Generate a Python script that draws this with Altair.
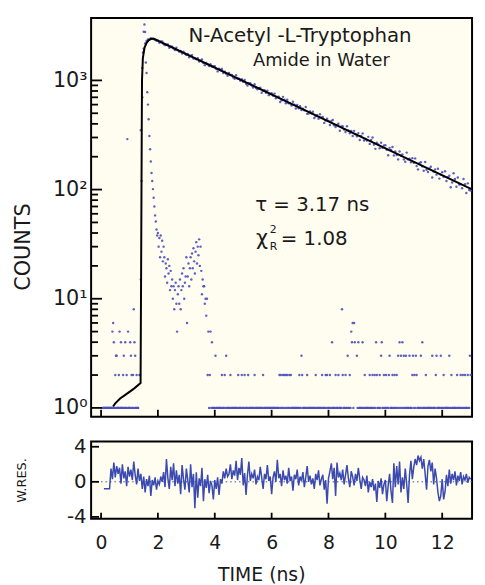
import altair as alt
import pandas as pd

# ---------------- data ----------------
DECAY_DT = 0.05    # ns per channel of the decay curve
LAMP_DT = 0.025    # ns per channel of the lamp / scatter profile

decay_counts = [
    0, 0, 1, 1, 1, 1, 1, 1, 1, 1, 1, 1, 1, 1, 1, 1, 1, 1, 1, 1,
    1, 1, 1, 1, 1, 1, 1, 2, 350, 1300, 1950, 2180, 2300, 2370, 2380, 2440, 2400, 2390, 2360, 2310,
    2317, 2214, 2277, 2278, 2159, 2104, 2123, 2134, 1986, 2049, 2037, 1963, 1902, 1989, 1893, 1834, 1860, 1761, 1830, 1760,
    1713, 1751, 1629, 1679, 1705, 1584, 1593, 1559, 1596, 1486, 1526, 1552, 1443, 1380, 1446, 1409, 1352, 1409, 1337, 1350,
    1346, 1280, 1209, 1283, 1244, 1272, 1166, 1200, 1153, 1102, 1172, 1121, 1124, 1064, 1035, 1115, 1038, 1038, 995, 1026,
    974, 1007, 931, 898, 941, 943, 898, 860, 923, 852, 829, 847, 857, 771, 805, 812, 769, 805, 733, 752,
    763, 725, 757, 687, 705, 708, 634, 656, 707, 666, 617, 664, 618, 616, 590, 637, 600, 552, 595, 555,
    581, 536, 551, 533, 571, 494, 497, 520, 500, 516, 453, 469, 481, 445, 489, 457, 462, 408, 429, 446,
    426, 390, 424, 433, 389, 374, 390, 401, 346, 379, 381, 355, 337, 380, 347, 328, 345, 309, 345, 321,
    307, 329, 284, 310, 327, 282, 291, 282, 304, 262, 284, 300, 258, 236, 269, 259, 239, 268, 242, 253,
    255, 232, 206, 241, 230, 245, 205, 223, 207, 189, 223, 205, 210, 189, 180, 218, 189, 192, 178, 194,
    176, 193, 164, 153, 175, 178, 163, 149, 179, 152, 145, 156, 162, 129, 146, 153, 137, 155, 126, 137,
    144, 131, 147, 120, 130, 134, 105, 116, 141, 125, 106, 129, 111, 112, 103, 125, 112, 93, 114, 99,
    98,
]

lamp_counts = [
    0, 0, 1, 1, 1, 1, 1, 1, 1, 1, 1, 1, 1, 1, 1, 1, 5, 6, 4, 1,
    2, 3, 3, 1, 1, 2, 5, 1, 4, 1, 1, 2, 3, 1, 4, 1, 2, 290, 5, 1,
    1, 4, 3, 2, 1, 2, 8, 4, 3, 1, 2, 1, 1, 0, 0, 2, 15, 120, 700, 1800,
    2790, 3250, 2780, 1460, 1170, 780, 600, 440, 310, 234, 181, 142, 120, 101, 84, 70, 58, 51, 43, 38,
    40, 30, 36, 24, 38, 27, 34, 22, 30, 24, 16, 21, 19, 14, 23, 17, 20, 12, 18, 13,
    15, 10, 13, 8, 12, 14, 9, 5, 11, 13, 9, 15, 8, 12, 17, 13, 19, 10, 14, 16,
    24, 6, 16, 21, 13, 19, 24, 15, 26, 19, 29, 22, 17, 27, 33, 21, 30, 25, 35, 20,
    30, 18, 11, 15, 13, 13, 9, 10, 7, 10, 2, 5, 1, 2, 5, 1, 4, 1, 1, 1,
    1, 3, 1, 1, 1, 1, 1, 1, 1, 1, 2, 1, 1, 1, 2, 1, 3, 1, 1, 1,
    1, 1, 2, 1, 1, 1, 1, 1, 1, 1, 1, 1, 1, 2, 1, 1, 1, 1, 2, 1,
    1, 1, 2, 1, 1, 1, 1, 2, 1, 1, 1, 1, 1, 1, 1, 1, 2, 1, 1, 1,
    1, 1, 1, 1, 1, 1, 1, 1, 2, 1, 1, 1, 1, 1, 1, 1, 1, 1, 1, 1,
    1, 1, 1, 1, 1, 1, 1, 1, 1, 1, 1, 2, 1, 2, 1, 1, 2, 1, 2, 1,
    2, 1, 2, 1, 1, 2, 1, 2, 1, 1, 1, 1, 1, 1, 1, 1, 1, 1, 1, 2,
    1, 1, 3, 2, 1, 1, 1, 1, 1, 1, 2, 1, 1, 1, 1, 1, 1, 1, 1, 1,
    1, 1, 2, 1, 1, 1, 1, 1, 1, 1, 1, 2, 1, 1, 1, 1, 2, 1, 2, 1,
    1, 1, 2, 1, 1, 4, 1, 1, 1, 1, 2, 1, 1, 1, 2, 1, 1, 1, 1, 8,
    2, 1, 1, 1, 2, 1, 1, 3, 1, 1, 2, 1, 5, 4, 6, 1, 6, 4, 0, 0,
    3, 1, 4, 1, 1, 1, 1, 1, 4, 1, 1, 2, 1, 1, 1, 1, 1, 1, 2, 1,
    1, 1, 2, 1, 1, 2, 1, 4, 2, 1, 1, 1, 2, 1, 3, 4, 1, 1, 2, 1,
    1, 2, 1, 1, 1, 2, 3, 1, 1, 1, 2, 1, 1, 2, 1, 1, 2, 1, 3, 1,
    4, 1, 3, 1, 4, 1, 3, 1, 1, 3, 1, 1, 1, 1, 3, 1, 1, 1, 2, 3,
    1, 2, 1, 3, 2, 1, 1, 1, 1, 1, 3, 1, 4, 1, 1, 1, 1, 2, 1, 1,
    1, 1, 1, 1, 1, 1, 3, 1, 1, 1, 1, 2, 3, 1, 1, 1, 1, 1, 3, 1,
    1, 1, 2, 1, 1, 1, 1, 1, 1, 1, 3, 1, 1, 2, 1, 1, 1, 1, 1, 1,
    1, 2, 1, 1, 1, 1, 2, 1, 1, 2, 1, 1, 2, 1, 1, 1, 2, 1, 1, 3,
    2,
]

RES_FIRST_CHANNEL = 2   # residuals start at decay channel 2
residuals = [
    -0.8, -0.8, -0.8, -0.8, -0.8,
    1.5, 0.3, 2.2, 0.5, 1.8, 0.9, 1.6, -0.2, 2.0, 0.4, 1.2, -0.5, 1.7, 0.6,
    1.4, 0.2, 2.3, 0.8, -0.3, 1.5, 0.1, 0.9, -0.8, 0.6, -1.2, 0.3, -0.5, 0.7, -1.6, 0.2, -0.4, 0.5, -0.9, 0.1,
    -0.3, 0.6, 0.0, 1.1, -0.6, 2.6, 0.4, -0.8, 1.7, 0.2, 2.1, -0.5, 1.3, -0.2, 0.8, -1.4, 1.9, 0.3, -0.9, 1.5,
    0.2, -1.2, 2.0, -0.6, 0.9, -3.0, 1.1, -1.8, 0.4, -0.5, 1.6, -2.2, 0.3, -0.7, 0.8, -1.3, 0.1, -0.4, -2.0, 0.2,
    -0.8, 0.5, -1.5, 0.3, -0.2, 1.2, 0.4, 1.5, 0.6, 0.9, 2.0, 0.3, 1.3, 0.7, 2.4, 0.2, 1.6, 0.8, 2.7, -0.4,
    1.0, -1.5, 0.8, 2.3, 0.1, 0.9, 0.4, 1.4, -0.3, 0.6, 0.2, 1.7, 0.5, -0.8, 0.9, 0.3, 1.9, 0.1, 0.6, -1.4,
    0.5, 1.2, 0.0, 2.5, 0.4, 0.9, -0.5, 1.3, 0.2, 0.7, -0.2, 1.6, 0.1, 0.6, -1.0, 0.8, 0.3, 1.4, -0.4, 0.6,
    0.1, 1.1, -0.6, 0.5, 1.8, 0.0, 0.7, -0.3, 0.4, -0.8, 0.9, 0.2, 1.3, -0.4, 0.3, 0.8, -0.9, 0.2, -2.5, 0.4,
    1.2, 2.1, 0.3, 1.6, -1.6, 2.2, 0.5, 1.0, 0.2, 1.4, -0.3, 0.8, 1.9, 0.4, -0.6, 1.2, 0.6, -0.4, 0.9, 0.1,
    1.6, 0.3, -0.8, 0.5, 0.2, -0.5, 0.7, -1.2, 0.0, -0.6, 0.3, -1.0, -0.2, -2.3, 0.1, -0.7, 0.4, -1.4, -0.3, 0.2,
    -2.2, -0.4, 0.9, -1.1, -2.4, 2.1, -0.6, 1.8, -0.3, 2.3, -1.2, 0.5, -0.8, 1.5, -0.2, -2.4, 0.8, 2.4, 0.3, 1.7,
    2.6, 1.9, 3.0, 2.4, 2.8, 1.5, 2.6, 0.9, -0.9, 1.8, 2.5, 1.2, 2.2, -0.3, 1.5, 0.4, -1.2, -2.2, -1.6, 0.3,
    -2.0, -1.1, 0.8, -0.5, 1.4, -0.2, 0.9, 0.2, 1.2, -0.4, 0.7, 0.1, 1.1, -0.3, 0.6, 0.2, 0.9, -0.1, 0.5, 0.3,
]

fit_time = [0.42, 0.50, 0.67, 0.84, 1.17, 1.39, 1.41, 1.43, 1.44, 1.47, 1.53, 1.60, 1.67, 1.76, 1.84, 13.05]
fit_counts = [1.03, 1.10, 1.22, 1.31, 1.51, 1.69, 20, 300, 1000, 1600, 2000, 2200, 2330, 2400, 2415, 100.4]

count_major = [1, 10, 100, 1000]
count_minor = [2, 3, 4, 5, 6, 7, 8, 9, 20, 30, 40, 50, 60, 70, 80, 90,
               200, 300, 400, 500, 600, 700, 800, 900]
time_ticks = [0, 2, 4, 6, 8, 10, 12]
res_ticks = [-4, 0, 4]

# ---------------- layout constants ----------------
X_DOMAIN = [-0.35, 13.05]
Y_DOMAIN = [0.83, 3730]
R_DOMAIN = [-4.2, 4.6]
W, H_TOP, H_RES = 385, 403, 78
FONT = "DejaVu Sans"
INK = "#1a1a1a"
DOT = "#4b4fc0"
RES = "#3a4ab0"
TICK_W = 1.8

# ---------------- tables ----------------
decay_df = pd.DataFrame({"time": [i * DECAY_DT for i in range(len(decay_counts))],
                         "counts": decay_counts})
lamp_df = pd.DataFrame({"time": [j * LAMP_DT for j in range(len(lamp_counts))],
                        "counts": lamp_counts})
dots_df = pd.concat([decay_df, lamp_df], ignore_index=True)
dots_df = dots_df[dots_df["counts"] > 0]

fit_df = pd.DataFrame({"time": fit_time, "counts": fit_counts})
res_df = pd.DataFrame({"time": [(RES_FIRST_CHANNEL + k) * DECAY_DT for k in range(len(residuals))],
                       "res": residuals})
zero_df = pd.DataFrame({"r": [0]})
major_df = pd.DataFrame({"counts": count_major})
minor_df = pd.DataFrame({"counts": count_minor})
tt_df = pd.DataFrame({"time": time_ticks})
rt_df = pd.DataFrame({"res": res_ticks})
name1_df = pd.DataFrame({"time": [7.0], "counts": [2570], "text": ["N-Acetyl -L-Tryptophan"]})
name2_df = pd.DataFrame({"time": [7.75], "counts": [1490], "text": ["Amide in Water"]})
tau_df = pd.DataFrame({"time": [5.42], "counts": [72.0], "text": ["τ = 3.17 ns"]})
chi_df = pd.DataFrame({"time": [5.45], "counts": [35.5], "text": ["χ"]})
chi_sup_df = pd.DataFrame({"time": [5.93], "counts": [43.0], "text": ["2"]})
chi_sub_df = pd.DataFrame({"time": [5.93], "counts": [29.5], "text": ["R"]})
chi_val_df = pd.DataFrame({"time": [6.32], "counts": [35.5], "text": ["= 1.08"]})

xs = alt.Scale(domain=X_DOMAIN, nice=False, zero=False)
ys = alt.Scale(type="log", domain=Y_DOMAIN, nice=False)
rs = alt.Scale(domain=R_DOMAIN, nice=False, zero=False)

sup = "datum.value == 1 ? '10⁰' : datum.value == 10 ? '10¹' : datum.value == 100 ? '10²' : '10³'"

y_label_axis = alt.Axis(values=count_major, labelExpr=sup, ticks=False, domain=False, grid=False,
                        labelFont=FONT, labelFontSize=21, labelColor=INK, labelPadding=4,
                        title="COUNTS", titleFont=FONT, titleFontSize=21, titleFontWeight="normal",
                        titleColor=INK, titleX=-68, titleY=231, titleAngle=270,
                        titleAlign="center", titleBaseline="middle")

dots = alt.Chart(dots_df).mark_circle(size=6, opacity=0.9, color=DOT).encode(
    x=alt.X("time:Q", scale=xs, axis=None),
    y=alt.Y("counts:Q", scale=ys, axis=y_label_axis),
)
fit = alt.Chart(fit_df).mark_line(color="black", strokeWidth=2).encode(
    x=alt.X("time:Q", scale=xs, axis=None),
    y=alt.Y("counts:Q", scale=ys, axis=None),
)


def y_ticks(df, field, scale, length):
    # inward tick marks on the left frame
    return alt.Chart(df).mark_rule(color="black", strokeWidth=TICK_W).encode(
        y=alt.Y(f"{field}:Q", scale=scale, axis=None),
        x=alt.value(0), x2=alt.value(length),
    )


def x_ticks(height, length):
    # inward tick marks on the bottom frame
    return alt.Chart(tt_df).mark_rule(color="black", strokeWidth=TICK_W).encode(
        x=alt.X("time:Q", scale=xs, axis=None),
        y=alt.value(height), y2=alt.value(height - length),
    )


def note(df, size, align):
    return alt.Chart(df).mark_text(font=FONT, fontSize=size, color=INK, align=align,
                                   baseline="middle").encode(
        x=alt.X("time:Q", scale=xs, axis=None),
        y=alt.Y("counts:Q", scale=ys, axis=None),
        text="text:N",
    )


top = alt.layer(
    dots, fit,
    y_ticks(major_df, "counts", ys, 11),
    y_ticks(minor_df, "counts", ys, 7),
    x_ticks(H_TOP, 7),
    note(name1_df, 20, "center"),
    note(name2_df, 18, "center"),
    note(tau_df, 20, "left"),
    note(chi_df, 21, "left"),
    note(chi_sup_df, 11, "left"),
    note(chi_sub_df, 11, "left"),
    note(chi_val_df, 20, "left"),
).properties(width=W, height=H_TOP).resolve_axis(x="independent", y="independent")

x_label_axis = alt.Axis(values=time_ticks, ticks=False, domain=False, grid=False,
                        labelFont=FONT, labelFontSize=19, labelColor=INK, labelPadding=15,
                        title="TIME (ns)", titleFont=FONT, titleFontSize=19, titleFontWeight="normal",
                        titleColor=INK, titleX=172, titleY=57, titleAlign="center",
                        titleBaseline="middle")
r_label_axis = alt.Axis(values=res_ticks, labelExpr="'' + datum.value", ticks=False, domain=False,
                        grid=False, labelFont=FONT, labelFontSize=20, labelColor=INK, labelPadding=5,
                        title="W.RES.", titleFont=FONT, titleFontSize=13, titleFontWeight="normal",
                        titleColor=INK, titleX=-70, titleY=39, titleAngle=270,
                        titleAlign="center", titleBaseline="middle")

res_line = alt.Chart(res_df).mark_line(color=RES, strokeWidth=1.5).encode(
    x=alt.X("time:Q", scale=xs, axis=x_label_axis),
    y=alt.Y("res:Q", scale=rs, axis=r_label_axis),
)
zero_rule = alt.Chart(zero_df).mark_rule(color=RES, strokeDash=[1.5, 3], strokeWidth=1).encode(
    y=alt.Y("r:Q", scale=rs, axis=None),
)

bottom = alt.layer(
    res_line, zero_rule,
    y_ticks(rt_df, "res", rs, 8),
    x_ticks(H_RES, 6),
).properties(width=W, height=H_RES).resolve_axis(x="independent", y="independent")

chart = alt.vconcat(top, bottom, spacing=16).properties(
    background="white",
    padding={"left": 4, "top": 6, "right": 0, "bottom": 0},
).configure_view(fill="#fffdf0", stroke="black", strokeWidth=2)

chart.save("out.html", embed_options={"renderer": "svg", "actions": False})
